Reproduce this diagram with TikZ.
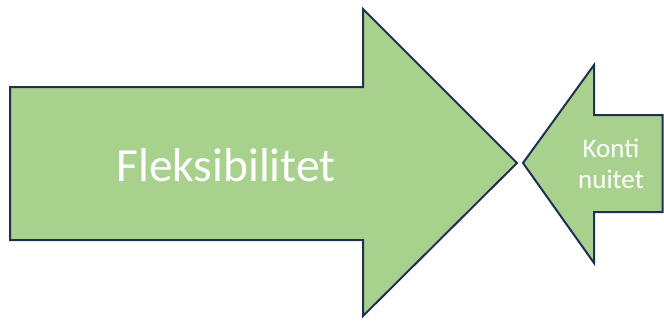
\documentclass[tikz,border=0pt]{standalone}
\usepackage{fontspec}
\setmainfont{Carlito}
\definecolor{arrowfill}{HTML}{A9D18E}
\definecolor{arrowline}{HTML}{1F3056}
\begin{document}
\begin{tikzpicture}[x=1pt,y=-1pt,
  arrowshape/.style={fill=arrowfill,draw=arrowline,line width=2pt,line join=miter},
  label/.style={text=white,inner sep=0pt,align=center}]
\useasboundingbox (0,0) rectangle (664,321);
% big arrow
\draw[arrowshape] (10,87) -- (363,87) -- (363,9) -- (517,163) -- (363,316) -- (363,240) -- (10,240) -- cycle;
% small arrow
\draw[arrowshape] (662.5,115) -- (594,115) -- (594,65) -- (523,163) -- (594,263) -- (594,212) -- (662.5,212) -- cycle;
\node[label,font=\fontsize{47.5}{56}\selectfont,anchor=base] (flex) at (226,181) {Fleksibilitet};
\node[label,font=\fontsize{27}{31}\selectfont,anchor=base] (konti) at (611,157) {Konti};
\node[label,font=\fontsize{27}{31}\selectfont,anchor=base] (nuitet) at (611,188) {nuitet};
\end{tikzpicture}
\end{document}
